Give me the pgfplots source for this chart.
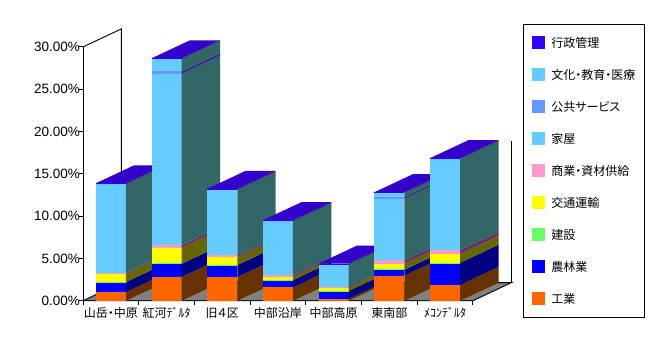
\documentclass[border=0pt]{standalone}
\usepackage{fontspec}
\setmainfont{Liberation Sans}
\newfontfamily\jp[RawFeature=+palt]{Noto Sans CJK JP}
\usepackage{pgfplots}
\pgfplotsset{compat=1.18}

\definecolor{orgF}{HTML}{FF6600}\definecolor{orgS}{HTML}{663300}
\definecolor{bluF}{HTML}{0000FF}\definecolor{bluS}{HTML}{000080}
\definecolor{grnF}{HTML}{66FF66}\definecolor{grnS}{HTML}{336633}
\definecolor{yelF}{HTML}{FFFF00}\definecolor{yelS}{HTML}{666600}
\definecolor{pnkF}{HTML}{FF99CC}\definecolor{pnkS}{HTML}{663366}
\definecolor{houF}{HTML}{66CCFF}\definecolor{houS}{HTML}{336666}
\definecolor{pubF}{HTML}{6699FF}\definecolor{pubS}{HTML}{333380}
\definecolor{culF}{HTML}{66CCFF}\definecolor{culS}{HTML}{336666}
\definecolor{admF}{HTML}{3300FF}\definecolor{admS}{HTML}{1A0066}
\definecolor{topC}{HTML}{3300CC}
\definecolor{floorC}{HTML}{808080}

\def\bw{0.27}\def\dX{0.69}\def\dY{2.13}
\gdef\cum{0}
\newcommand{\startbar}{\gdef\cum{0}}
% #1 centre, #2 value, #3 front colour, #4 side colour
\newcommand{\seg}[4]{%
  \pgfmathsetmacro\xa{#1-\bw}%
  \pgfmathsetmacro\xb{#1+\bw}%
  \pgfmathsetmacro\xc{#1+\bw+\dX}%
  \pgfmathsetmacro\ya{\cum}%
  \pgfmathsetmacro\yb{\cum+#2}%
  \pgfmathsetmacro\yc{\cum+\dY}%
  \pgfmathsetmacro\yd{\cum+#2+\dY}%
  \edef\temp{\noexpand\addplot[fill=#3,draw=none,forget plot] coordinates {(\xa,\ya) (\xb,\ya) (\xb,\yb) (\xa,\yb)};
    \noexpand\addplot[fill=#4,draw=none,forget plot] coordinates {(\xb,\ya) (\xc,\yc) (\xc,\yd) (\xb,\yb)};}%
  \temp
  \xdef\cum{\yb}}
\newcommand{\topface}[1]{%
  \pgfmathsetmacro\xa{#1-\bw}%
  \pgfmathsetmacro\xb{#1+\bw}%
  \pgfmathsetmacro\xc{#1+\bw+\dX}%
  \pgfmathsetmacro\xd{#1-\bw+\dX}%
  \pgfmathsetmacro\yc{\cum+\dY}%
  \edef\temp{\noexpand\addplot[fill=topC,draw=none,forget plot] coordinates {(\xa,\cum) (\xb,\cum) (\xc,\yc) (\xd,\yc)};}%
  \temp}
% one bar: centre; then values bottom to top
\newcommand{\onebar}[2]{%
  \startbar
  \barparts{#1}#2\relax}
\def\barparts#1#2,#3,#4,#5,#6,#7,#8,#9\relax{%
  \seg{#1}{#2}{orgF}{orgS}%
  \seg{#1}{#3}{bluF}{bluS}%
  \seg{#1}{#4}{grnF}{grnS}%
  \seg{#1}{#5}{yelF}{yelS}%
  \seg{#1}{#6}{pnkF}{pnkS}%
  \seg{#1}{#7}{houF}{houS}%
  \restparts{#1}#8,#9\relax}
\def\restparts#1#2,#3,#4\relax{%
  \seg{#1}{#2}{pubF}{pubS}%
  \seg{#1}{#3}{culF}{culS}%
  \seg{#1}{#4}{admF}{admS}%
  \topface{#1}}

\pgfplotsset{sq/.style={legend image code/.code={\fill[##1] (0pt,-6.5pt) rectangle (13pt,6.5pt);}}}

\begin{document}
\begin{tikzpicture}
\begin{axis}[
  anchor=origin, at={(0pt,0pt)},
  x=55.7pt, y=8.46pt,
  xmin=0, xmax=7, ymin=0, ymax=30,
  clip=false,
  axis x line*=bottom, axis y line*=left,
  axis line style={-, black, line width=0.9pt},
  tick style={black, line width=0.9pt},
  tick align=outside, major tick length=4pt,
  xtick={0,1,...,7}, xticklabels={},
  extra x ticks={0.5,1.5,2.5,3.5,4.5,5.5,6.5},
  extra x tick labels={山岳・中原,紅河ﾃﾞﾙﾀ,旧４区,中部沿岸,中部高原,東南部,ﾒｺﾝﾃﾞﾙﾀ},
  extra x tick style={major tick length=0pt, xticklabel style={font=\jp\fontsize{12}{14}\selectfont, anchor=base, inner sep=0pt, yshift=-17.2pt}},
  ytick={0,5,...,30},
  yticklabels={0.00\%,5.00\%,10.00\%,15.00\%,20.00\%,25.00\%,30.00\%},
  yticklabel style={font=\fontsize{13.5}{15}\selectfont, anchor=east, inner sep=0pt, xshift=1pt},
  legend style={at={(1.1282,1.0902)}, anchor=north west, draw=black, line width=0.9pt,
    inner xsep=9pt, inner ysep=12pt, row sep=19pt, column sep=6pt,
    font=\jp\fontsize{12}{14}\selectfont, nodes={inner sep=0pt, anchor=west}},
  legend cell align=left,
]
% floor and walls
\addplot[fill=floorC, draw=black, line width=0.9pt, forget plot] coordinates {(0,0) (7,0) (7.69,2.13) (0.69,2.13) (0,0)};
\addplot[draw=black, line width=0.9pt, forget plot] coordinates {(0,30) (0.69,32.13) (0.69,2.13)};
\addplot[draw=black, line width=0.9pt, forget plot] coordinates {(7.69,2.13) (7.69,18.9)};
% bars: 工業, 農林業, 建設, 交通運輸, 商業・資材供給, 家屋, 公共サービス, 文化・教育・医療, 行政管理
\onebar{0.5}{1.03,1.17,0.02,0.98,0.10,10.53,0,0,0.05}
\onebar{1.5}{2.80,1.57,0.03,1.86,0.32,20.19,0.38,1.45,0.05}
\onebar{2.5}{2.80,1.42,0.02,0.93,0.23,7.77,0,0,0.05}
\onebar{3.5}{1.58,0.87,0.02,0.37,0.20,6.42,0,0,0.05}
\onebar{4.5}{0.24,0.91,0.01,0.38,0.05,2.75,0,0,0.05}
\onebar{5.5}{2.96,0.71,0.02,0.68,0.43,7.22,0.27,0.48,0.05}
\onebar{6.5}{1.86,2.63,0.02,1.01,0.48,10.80,0,0,0.05}
% legend
\addlegendimage{sq, fill=admF, draw=none}\addlegendentry{行政管理}
\addlegendimage{sq, fill=culF, draw=none}\addlegendentry{文化・教育・医療}
\addlegendimage{sq, fill=pubF, draw=none}\addlegendentry{公共サービス}
\addlegendimage{sq, fill=houF, draw=none}\addlegendentry{家屋}
\addlegendimage{sq, fill=pnkF, draw=none}\addlegendentry{商業・資材供給}
\addlegendimage{sq, fill=yelF, draw=none}\addlegendentry{交通運輸}
\addlegendimage{sq, fill=grnF, draw=none}\addlegendentry{建設}
\addlegendimage{sq, fill=bluF, draw=none}\addlegendentry{農林業}
\addlegendimage{sq, fill=orgF, draw=none}\addlegendentry{工業}
\end{axis}
\pgfresetboundingbox
\path[use as bounding box] (-83pt,-59.3pt) rectangle (582pt,300.7pt);
\end{tikzpicture}
\end{document}
